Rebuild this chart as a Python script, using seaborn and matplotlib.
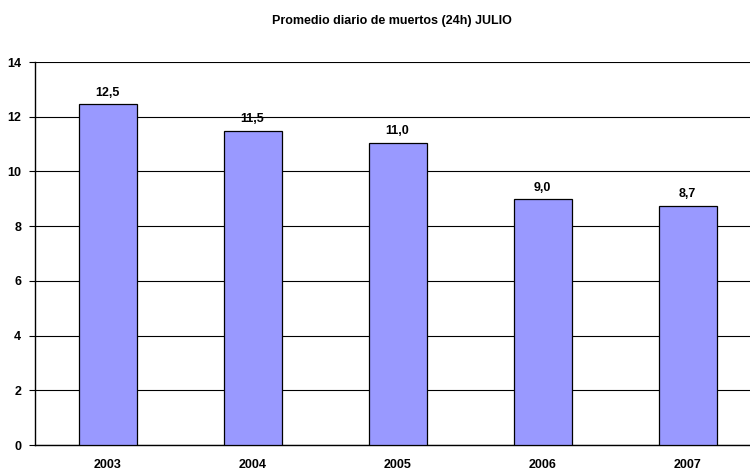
import matplotlib
matplotlib.use("Agg")
import matplotlib.pyplot as plt
import seaborn as sns
import pandas as pd
import numpy as np

years = ["2003", "2004", "2005", "2006", "2007"]
values = [12.45, 11.48, 11.04, 8.99, 8.74]
labels = ["12,5", "11,5", "11,0", "9,0", "8,7"]
yticks = [0, 2, 4, 6, 8, 10, 12, 14]
title = "Promedio diario de muertos (24h) JULIO"

sns.set_theme(style="white")
plt.rcParams['font.family'] = ['Liberation Sans', 'DejaVu Sans']
plt.rcParams['text.color'] = 'black'
plt.rcParams['xtick.color'] = 'black'
plt.rcParams['ytick.color'] = 'black'

df = pd.DataFrame({"year": years, "value": values})

fig = plt.figure(figsize=(7.5, 4.71), dpi=100)
W, H = 750, 471
ax = fig.add_axes([35 / W, 26 / H, 725 / W, 383 / H])

sns.barplot(data=df, x="year", y="value", ax=ax, color="#9999FF",
            saturation=1, width=0.4, edgecolor="black", linewidth=0.9, zorder=3)

ax.set_xlim(-0.5, len(years) - 0.5)
ax.set_ylim(0, 14)
ax.set_yticks(yticks)
ax.set_yticklabels([str(t) for t in yticks], fontsize=9, fontweight="bold", color="black")
ax.yaxis.grid(True, color="black", linewidth=0.8, zorder=0)
ax.set_axisbelow(True)
ax.set_xlabel("")
ax.set_ylabel("")

ax.set_xticks(range(len(years)))
ax.set_xticklabels(years, fontsize=9, fontweight="bold", color="black")
ax.tick_params(axis="x", which="major", length=0, pad=10)
ax.set_xticks(np.arange(-0.5, len(years) + 0.5, 1), minor=True)
ax.tick_params(axis="x", which="minor", length=4, direction="out", color="black", width=0.8)
ax.tick_params(axis="y", length=4, direction="out", color="black", width=0.8, pad=6, left=True)

for s in ["top", "right"]:
    ax.spines[s].set_visible(False)
for s in ["left", "bottom"]:
    ax.spines[s].set_color("black")
    ax.spines[s].set_linewidth(1.0)

for i, (v, lab) in enumerate(zip(values, labels)):
    ax.annotate(lab, (i, v), xytext=(0, 4), textcoords="offset points",
                ha="center", va="bottom", fontsize=9, fontweight="bold", color="black")

fig.text(392 / W, 1 - 21 / H, title, ha="center", va="center",
         fontsize=9, fontweight="bold", color="black")

fig.savefig("out.png", dpi=100)
